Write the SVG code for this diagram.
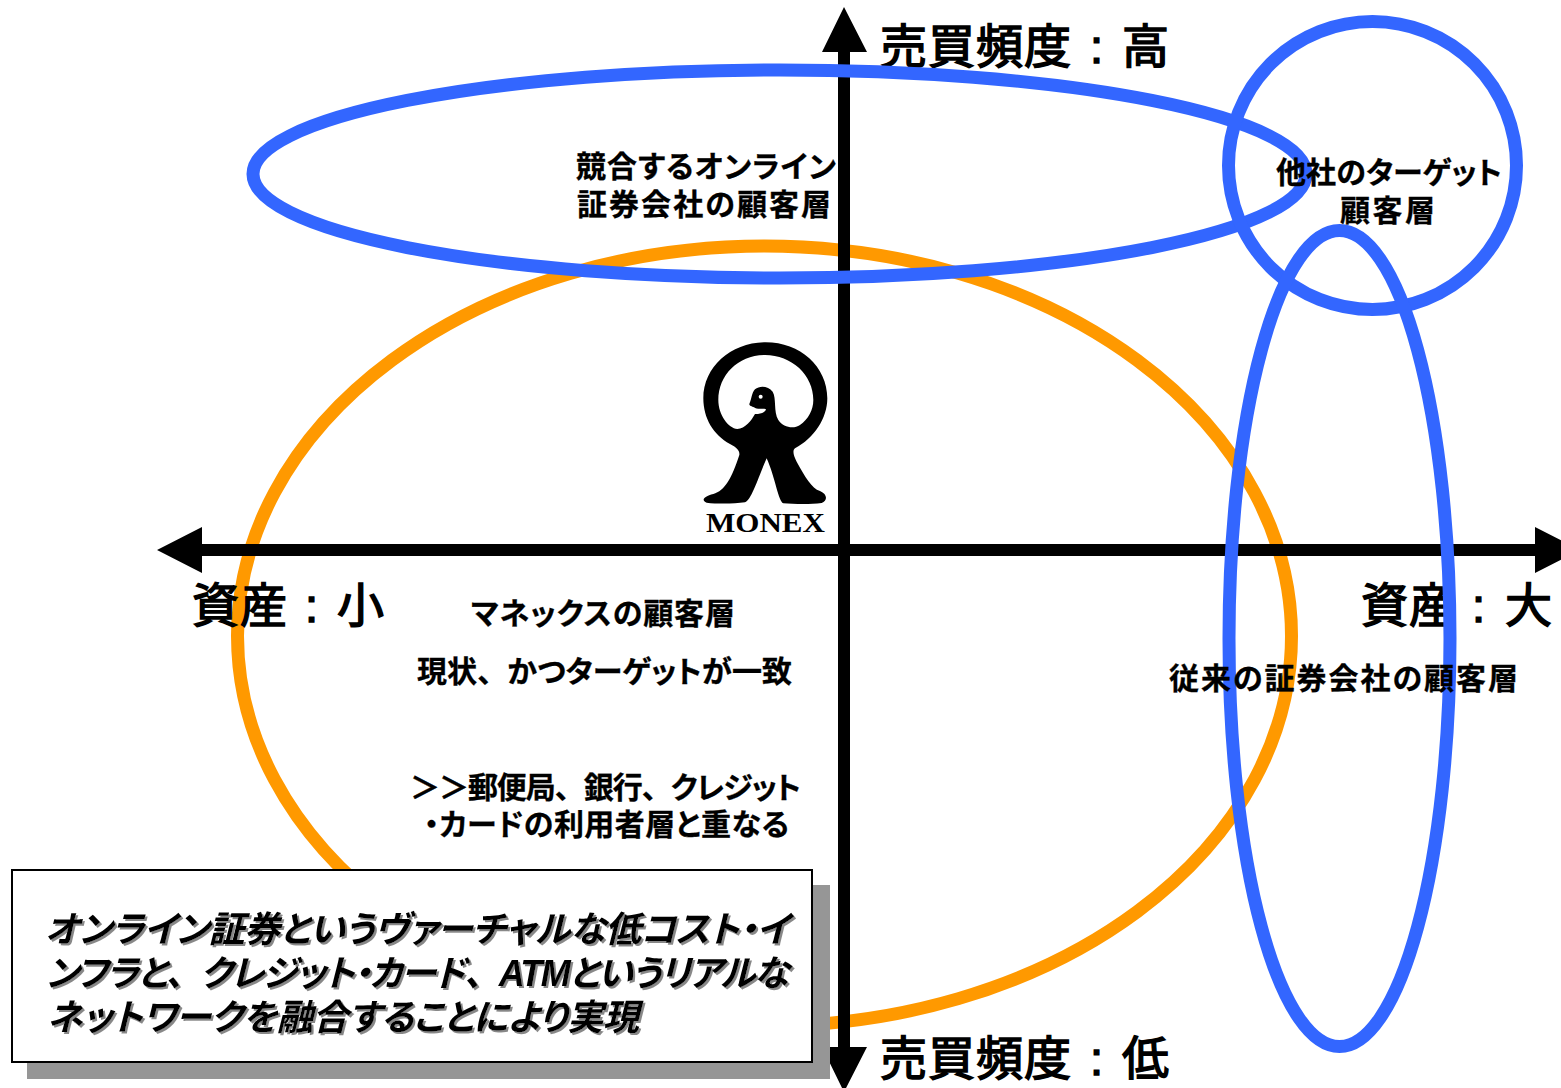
<svg xmlns="http://www.w3.org/2000/svg" width="1561" height="1088" viewBox="0 0 1561 1088">
<defs>
<style>
text{font-family:"Liberation Sans","Noto Sans CJK JP",sans-serif;fill:#000;font-weight:700;font-feature-settings:"palt"}
.o{fill:none;stroke-width:13}
.bl{stroke:#3366ff}
.or{stroke:#ff9900}
.ax{font-size:47px;font-weight:400;stroke:#000;stroke-width:1.5;font-feature-settings:normal}
.lb{font-size:30px;stroke:#000;stroke-width:.3}
.it{font-size:36px;font-style:italic}
.w{font-feature-settings:normal}
</style>
<filter id="ts" x="-5%" y="-20%" width="110%" height="140%"><feDropShadow dx="2" dy="2" stdDeviation="0.4" flood-color="#888"/></filter>
</defs>
<rect width="1561" height="1088" fill="#fff"/>
<g id="ellipse-monex"><ellipse class="o or" cx="764.500" cy="636" rx="527" ry="390"/></g>
<g id="connectors">
<path d="M195 550H1545M844 45V1055" fill="none" stroke="#000" stroke-width="12"/>
<path d="M157 550L202 527V573ZM1580 550L1535 527V573ZM844 7L867 52H822ZM844 1092L867 1047H822Z" fill="#000"/>
</g>
<g id="axis-labels">
<text class="ax" x="880 928 976 1024 1072 1090 1105 1122" y="63">売買頻度 : 高</text>
<text class="ax" x="880 928 976 1024 1072 1090 1105 1122" y="1075">売買頻度 : 低</text>
<text class="ax" x="192 240 288 305 320 337" y="622">資産 : 小</text>
<text class="ax" x="1361 1409 1457 1472 1490 1505" y="622">資産 : 大</text>
</g>
<g id="ellipse-rivals"><ellipse class="o bl" cx="779.500" cy="174" rx="526.500" ry="104"/></g>
<g id="circle-others"><circle class="o bl" cx="1372.500" cy="165.500" r="144"/></g>
<g id="ellipse-traditional"><ellipse class="o bl" cx="1339.500" cy="638.500" rx="110.500" ry="408"/></g>
<g id="logo">
<g transform="translate(680 330) scale(.3333)">
<path fill-rule="evenodd" d="M257 37C360 37 442 110 442 205C442 265 402 325 345 355C337 362 340 375 350 395C375 440 395 475 420 483C442 492 444 512 425 519C390 524 340 522 310 520C295 515 285 440 260 385C235 440 215 510 195 517C160 522 110 522 80 518C62 512 72 498 100 492C135 482 155 445 178 375C180 362 170 352 150 342C100 315 70 265 70 205C70 110 155 37 257 37ZM255 75C175 75 115 135 115 210C115 255 145 295 172 297C195 297 215 270 225 252C232 254 258 248 258 238C250 234 230 240 222 232C216 229 208 228 208 222C216 205 214 190 225 178C240 165 265 168 278 185C290 205 280 245 295 270C310 292 340 298 360 285C385 268 400 240 400 210C400 135 335 75 255 75Z" fill="#000"/>
<circle cx="242" cy="200" r="6" fill="#fff"/>
</g>
<text x="706" y="532" textLength="119" lengthAdjust="spacingAndGlyphs" style="font-family:'Liberation Serif',serif;font-size:27px;font-weight:700">MONEX</text>
</g>
<g id="label-rivals">
<text class="lb" x="576" y="177" textLength="260">競合するオンライン</text>
<text class="lb" x="577" y="215" textLength="254">証券会社の顧客層</text>
</g>
<g id="label-others">
<text class="lb" x="1276" y="183" textLength="226">他社のターゲット</text>
<text class="lb" x="1340" y="221" textLength="95">顧客層</text>
</g>
<g id="label-monex">
<text class="lb" x="471" y="624" textLength="264">マネックスの顧客層</text>
<text class="lb" x="417" y="682" textLength="375">現状<tspan class="w">、</tspan>かつターゲットが一致</text>
<text class="lb" x="410" y="798" textLength="391">＞＞郵便局<tspan class="w">、</tspan>銀行<tspan class="w">、</tspan>クレジット</text>
<text class="lb" x="424" y="835" textLength="365">・カードの利用者層と重なる</text>
</g>
<g id="label-traditional">
<text class="lb" x="1169" y="689" textLength="349">従来の証券会社の顧客層</text>
</g>
<g id="note">
<rect x="27" y="885" width="803" height="194" fill="#969696"/>
<rect x="12" y="870" width="800" height="192" fill="#fff" stroke="#000" stroke-width="2"/>
<g filter="url(#ts)">
<text class="it" x="45" y="942" textLength="744">オンライン証券というヴァーチャルな低コスト・イ</text>
<text class="it" x="46" y="986" textLength="743">ンフラと<tspan class="w">、</tspan>クレジット・カード<tspan class="w">、</tspan>ATMというリアルな</text>
<text class="it" x="47" y="1030" textLength="592">ネットワークを融合することにより実現</text>
</g>
</g>
</svg>
